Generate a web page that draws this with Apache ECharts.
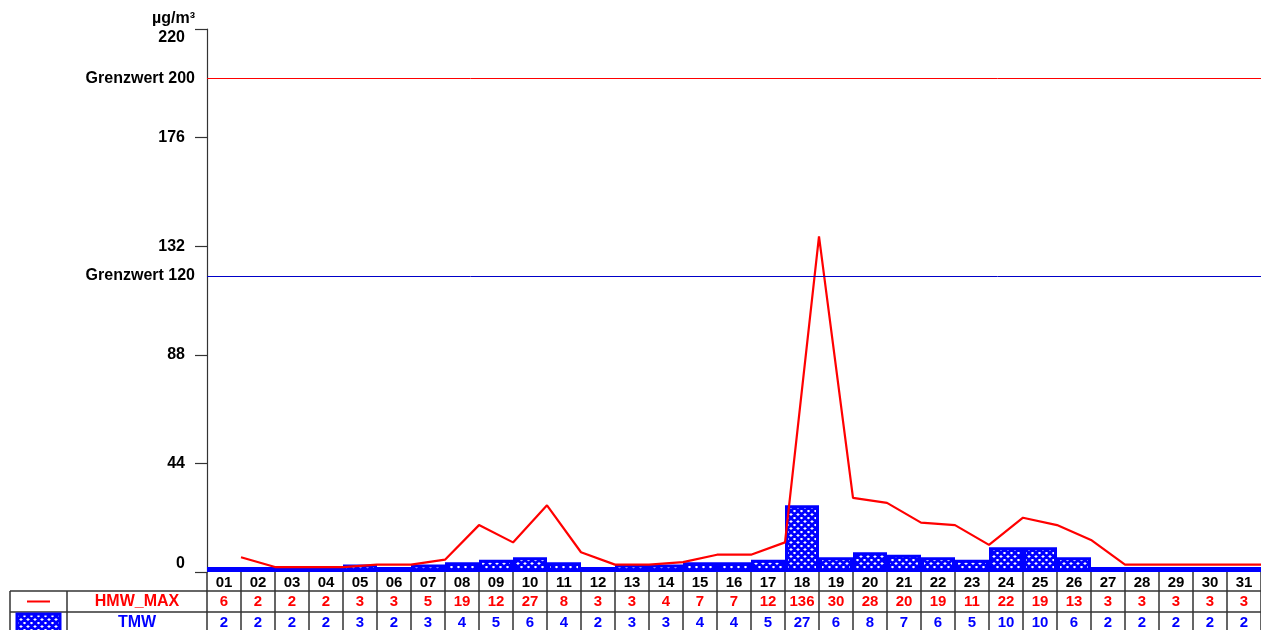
<!DOCTYPE html>
<html>
<head>
<meta charset="utf-8">
<script src="https://cdn.jsdelivr.net/npm/echarts@6/dist/echarts.min.js"></script>
<style>
  html, body { margin: 0; padding: 0; background: #fff; }
  #chart { width: 1261px; height: 630px; }
</style>
</head>
<body>
<div id="chart"></div>
<script>
  const days = ['01','02','03','04','05','06','07','08','09','10','11','12','13','14','15','16',
    '17','18','19','20','21','22','23','24','25','26','27','28','29','30','31'];
  const hmwMax = [6,2,2,2,3,3,5,19,12,27,8,3,3,4,7,7,12,136,30,28,20,19,11,22,19,13,3,3,3,3,3];
  const tmw = [2,2,2,2,3,2,3,4,5,6,4,2,3,3,4,4,5,27,6,8,7,6,5,10,10,6,2,2,2,2,2];
  const limits = [{ value: 200, label: 'Grenzwert 200', color: '#ff0000' },
                  { value: 120, label: 'Grenzwert 120', color: '#0000c8' }];
  const yTicks = { min: 0, max: 220, step: 44 };

  const FONT = 'Arial, "Liberation Sans", sans-serif';
  const BLUE = '#0000ff';
  const RED = '#ff0000';
  const LINE = '#333';

  // diagonal crosshatch fill like the original bars
  function hatch() {
    const s = 7;
    const c = document.createElement('canvas');
    c.width = s; c.height = s;
    const g = c.getContext('2d');
    g.fillStyle = '#fff';
    g.fillRect(0, 0, s, s);
    g.strokeStyle = BLUE;
    g.lineWidth = 2.7;
    g.beginPath();
    for (let k = -s; k <= s; k += s) {
      g.moveTo(k, 0); g.lineTo(k + s, s);
      g.moveTo(k + s, 0); g.lineTo(k, s);
    }
    g.stroke();
    return c;
  }
  const pattern = { image: hatch(), repeat: 'repeat' };

  const chart = echarts.init(document.getElementById('chart'), null, { renderer: 'canvas' });

  const bold = { fontFamily: FONT, fontWeight: 'bold', fontSize: 15, color: '#000' };
  const ybold = Object.assign({}, bold, { fontSize: 16 });

  // x axes: day row + two value rows of the table underneath
  function tableAxis(data, offset, color, tickLen, showLine) {
    return {
      type: 'category',
      gridIndex: 0,
      position: 'bottom',
      offset: offset,
      data: data,
      boundaryGap: true,
      axisLine: { show: showLine, lineStyle: { color: LINE, width: 1.5 } },
      axisTick: { show: true, interval: 0, length: tickLen, lineStyle: { color: LINE, width: 1.5 } },
      axisLabel: Object.assign({}, bold, { interval: 0, margin: 3, color: color }),
      splitLine: { show: false }
    };
  }

  const option = {
    animation: false,
    grid: { left: 207, top: 29, right: -6, bottom: 58, containLabel: false },
    xAxis: [
      tableAxis(days, 0, '#000', 19, false),
      { type: 'value', min: 0, max: days.length, show: false },
      tableAxis(hmwMax.map(String), 19, RED, 21, true),
      tableAxis(tmw.map(String), 40, BLUE, 20, true)
    ],
    yAxis: {
      type: 'value',
      min: yTicks.min,
      max: yTicks.max,
      interval: yTicks.step,
      name: 'µg/m³',
      nameLocation: 'end',
      nameGap: 2,
      nameTextStyle: Object.assign({}, ybold, { align: 'right', padding: [0, 12, 0, 0] }),
      axisLine: { show: true, lineStyle: { color: LINE, width: 1.2 } },
      axisTick: { show: true, length: 12, lineStyle: { color: LINE, width: 1.2 } },
      splitLine: { show: false },
      axisLabel: Object.assign({}, ybold, {
        margin: 22,
        formatter: v => v === yTicks.max ? '{hi|' + v + '}' : (v === 0 ? '{lo|' + v + '}' : '{n|' + v + '}'),
        rich: {
          hi: Object.assign({}, ybold, { padding: [18, 0, 0, 0] }),
          lo: Object.assign({}, ybold, { padding: [0, 0, 16, 0] }),
          n: Object.assign({}, ybold)
        }
      })
    },
    series: [
      {
        name: 'TMW',
        type: 'bar',
        xAxisIndex: 0,
        data: tmw,
        barWidth: '100%',
        barCategoryGap: 0,
        itemStyle: { color: pattern, borderColor: BLUE, borderWidth: 3 },
        z: 2
      },
      {
        name: 'HMW_MAX',
        type: 'line',
        xAxisIndex: 1,
        // the original plots each day's maximum at the right edge of its cell
        data: hmwMax.map((v, i) => [i + 1, v]),
        symbol: 'none',
        lineStyle: { color: RED, width: 2.2 },
        z: 3,
        markLine: {
          silent: true,
          symbol: 'none',
          data: limits.map(l => ({
            yAxis: l.value,
            lineStyle: { color: l.color, width: 1, type: 'solid' },
            label: Object.assign({}, ybold, { show: true, position: 'start', distance: 12, formatter: l.label })
          }))
        }
      }
    ],
    graphic: [
      // left part of the table (legend cells)
      { type: 'line', shape: { x1: 10, y1: 591, x2: 207, y2: 591 }, style: { stroke: LINE, lineWidth: 1.5 } },
      { type: 'line', shape: { x1: 10, y1: 612, x2: 207, y2: 612 }, style: { stroke: LINE, lineWidth: 1.5 } },
      { type: 'line', shape: { x1: 10, y1: 591, x2: 10, y2: 632 }, style: { stroke: LINE, lineWidth: 1.5 } },
      { type: 'line', shape: { x1: 67, y1: 591, x2: 67, y2: 632 }, style: { stroke: LINE, lineWidth: 1.5 } },
      { type: 'line', shape: { x1: 27, y1: 601.5, x2: 50, y2: 601.5 }, style: { stroke: RED, lineWidth: 2 } },
      { type: 'rect', shape: { x: 17, y: 614, width: 43, height: 20 }, style: { fill: pattern, stroke: BLUE, lineWidth: 3 } },
      { type: 'text', x: 137, y: 602, style: { text: 'HMW_MAX', fill: RED, font: 'bold 16px ' + FONT, align: 'center', verticalAlign: 'middle' } },
      { type: 'text', x: 137, y: 623, style: { text: 'TMW', fill: BLUE, font: 'bold 16px ' + FONT, align: 'center', verticalAlign: 'middle' } }
    ]
  };

  chart.setOption(option);
</script>
</body>
</html>
